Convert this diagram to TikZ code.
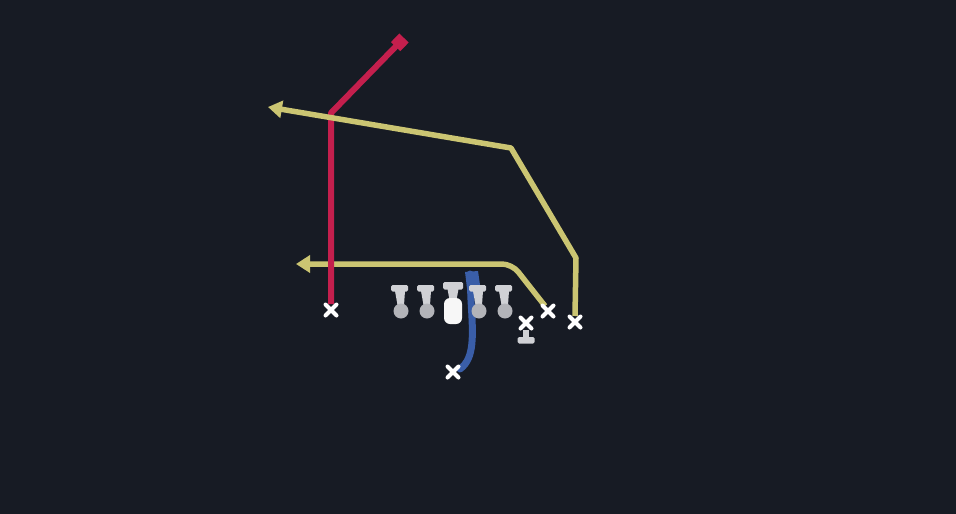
\documentclass[tikz,border=0pt]{standalone}
\usetikzlibrary{arrows.meta}
\definecolor{bg}{HTML}{171B24}
\definecolor{rte}{HTML}{C41F4D}
\definecolor{ylw}{HTML}{CBC572}
\definecolor{blu}{HTML}{3A5EA8}
\definecolor{olgray}{HTML}{D0D1D5}
\definecolor{olball}{HTML}{B3B4B9}
\tikzset{
  xmark/.pic={\draw[white,line width=4pt,line cap=round] (-5.5,-5.5)--(5.5,5.5) (-5.5,5.5)--(5.5,-5.5);},
  lineman/.pic={
    \fill[olgray,rounded corners=1.5pt] (-10,-16) rectangle (7,-9.5);
    \fill[olgray] (-6,-10) -- (4,-10) -- (3,4) -- (-3.5,4) -- cycle;
    \fill[olball] (0,10) circle[radius=7.5pt];
  },
  centerman/.pic={
    \fill[olgray,rounded corners=1.5pt] (-10,-18) rectangle (10,-10.5);
    \fill[olgray] (-5.5,-11) -- (5.5,-11) -- (3.5,0) -- (-3.5,0) -- cycle;
    \fill[white!94!gray,rounded corners=6pt] (-9,-2) rectangle (9,24);
  },
  tightend/.pic={
    \draw[white,line width=4pt,line cap=round] (-5.5,-5.5)--(5.5,5.5) (-5.5,5.5)--(5.5,-5.5);
    \fill[olgray] (-3,7) rectangle (3,16);
    \fill[olgray,rounded corners=1.5pt] (-8.5,14) rectangle (8.5,20.5);
  },
  yroute/.style={ylw,line width=5.5pt,line join=round,-{Triangle[length=14pt,width=17pt]}},
  rroute/.style={rte,line width=6pt,line join=round,-{Square[length=12pt,width=13pt]}},
}
\begin{document}
\begin{tikzpicture}[x=1pt,y=-1pt]
\fill[bg] (0,0) rectangle (956,514);
\useasboundingbox (0,0) rectangle (956,514);

% players
\coordinate (wrL) at (331,310);
\coordinate (wrR) at (575,322);
\coordinate (slot) at (548,311);
\coordinate (te) at (526,323);
\coordinate (rb) at (453,372);

% route points
\coordinate (wrLs) at (331,304);
\coordinate (r1) at (331,113);
\coordinate (r2) at (404,38);
\coordinate (wrRs) at (575,316);
\coordinate (y1) at (576,258);
\coordinate (y2) at (511,148);
\coordinate (y3) at (268,107);
\coordinate (slots) at (545,306);
\coordinate (s1) at (512,264);
\coordinate (s2) at (296,264);
\coordinate (bt) at (470,274);
\coordinate (bm) at (471,300);
\coordinate (be) at (460,369);

% routes
\draw[yroute,rounded corners=10pt] (slots) -- (s1) -- (s2);
\draw[rroute] (wrLs) -- (r1) -- (r2);
\draw[yroute] (wrRs) -- (y1) -- (y2) -- (y3);

% RB motion
\fill[blu] (465,272) -- (478,271) -- (481,292) -- (468,296) -- cycle;
\draw[blu,line width=7pt,line cap=round] (bt) -- (bm) .. controls (473,335) and (475,358) .. (be);

% offensive line
\pic at (401,301) {lineman};
\pic at (427,301) {lineman};
\pic at (453,300) {centerman};
\pic at (479,301) {lineman};
\pic at (505,301) {lineman};

% skill players
\pic at (wrL) {xmark};
\pic at (wrR) {xmark};
\pic at (slot) {xmark};
\pic at (rb) {xmark};
\pic at (te) {tightend};
\end{tikzpicture}
\end{document}
